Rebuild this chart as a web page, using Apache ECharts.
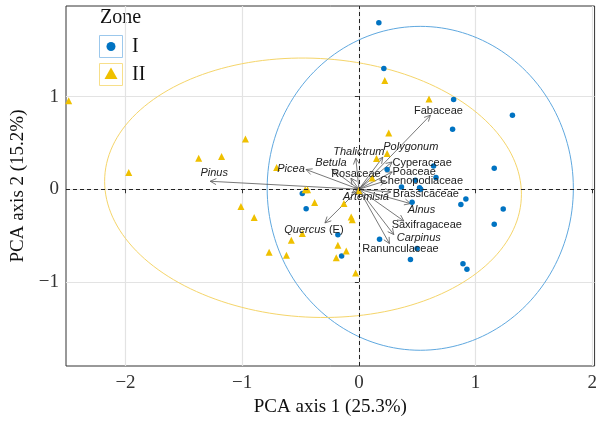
<!DOCTYPE html>
<html><head><meta charset="utf-8">
<script src="https://cdn.jsdelivr.net/npm/echarts@6/dist/echarts.min.js"></script>
<style>html,body{margin:0;padding:0;background:#fff}#c{width:600px;height:422px}</style>
</head><body><div id="c"></div>
<script>
// ---------- data ----------
const zoneNames = ['I', 'II'];
const zoneI = [
  [0.171, 1.80], [0.214, 1.305], [0.812, 0.970], [1.316, 0.80], [0.803, 0.649],
  [1.160, 0.227], [0.640, 0.252], [0.661, 0.126], [0.484, 0.097], [0.365, 0.025],
  [0.52, 0.015], [0.53, 0.0], [0.917, -0.105], [0.874, -0.166], [1.237, -0.213],
  [0.456, -0.14], [1.160, -0.378], [0.499, -0.641], [0.442, -0.760], [0.892, -0.804],
  [0.926, -0.865], [0.242, 0.213], [-0.485, -0.046], [-0.452, -0.21], [-0.18, -0.492],
  [-0.148, -0.722], [0.177, -0.541]
];
const zoneII = [
  [-2.487, 0.955], [-0.972, 0.544], [-1.373, 0.335], [-1.177, 0.353], [-1.972, 0.18],
  [-0.705, 0.235], [-0.46, -0.005], [-0.44, -0.005], [-1.011, -0.187], [-0.897, -0.306],
  [-0.379, -0.143], [-0.128, -0.155], [-0.066, -0.30], [-0.057, -0.33], [-0.485, -0.479],
  [-0.579, -0.551], [-0.18, -0.605], [-0.108, -0.667], [-0.769, -0.680], [-0.621, -0.714],
  [-0.194, -0.739], [-0.028, -0.905], [0.0, -0.015], [0.114, 0.122], [0.151, 0.332],
  [0.242, 0.386], [0.256, 0.609], [0.222, 1.175], [0.601, 0.976]
];
// confidence ellipses: centre x, centre y, axis-1 vector (x,y), axis-2 vector (x,y)
const ellipseI  = [0.526, 0.01, 1.312, 0.0, 0.0, 1.75];
const ellipseII = [-0.393, 0.016, 1.786, -0.07, 0.0, 1.40];
// variable loadings (arrows)
const varNames = ['Pinus','Picea','Betula','Rosaceae','Thalictrum','Polygonum','Cyperaceae','Poaceae',
  'Chenopodiaceae','Brassicaceae','Alnus','Saxifragaceae','Carpinus','Ranunculaceae','Quercus (E)','Artemisia','Fabaceae'];
const varX = [-1.274, -0.453, -0.231, -0.068, -0.026, 0.205, 0.285, 0.285, 0.228, 0.274, 0.442, 0.385, 0.299, 0.262, -0.291, -0.06, 0.613];
const varY = [0.086, 0.213, 0.216, 0.119, 0.335, 0.346, 0.295, 0.187, 0.09, -0.03, -0.155, -0.343, -0.49, -0.587, -0.364, -0.04, 0.80];
const xTicks = [-2, -1, 0, 1, 2];
const yTicks = [-1, 0, 1];
const xTitle = 'PCA axis 1 (25.3%)';
const yTitle = 'PCA axis 2 (15.2%)';
const legendTitle = 'Zone';

// ---------- styling ----------
const italicNames = ['Pinus','Picea','Betula','Thalictrum','Polygonum','Alnus','Carpinus','Artemisia'];
const labelOffset = { // pixel offsets of label centre from arrow tip
  'Pinus':[4,-8], 'Picea':[-15,-1], 'Betula':[-1,-6], 'Rosaceae':[5,-4], 'Thalictrum':[3,-6],
  'Polygonum':[28,-10], 'Cyperaceae':[30,1], 'Poaceae':[22,0], 'Chenopodiaceae':[36,0],
  'Brassicaceae':[35,2], 'Alnus':[11,6], 'Saxifragaceae':[23,4], 'Carpinus':[25,3],
  'Ranunculaceae':[11,5], 'Quercus (E)':[-11,7], 'Artemisia':[14,4], 'Fabaceae':[8,-4]
};
const BLUE = '#0073C2', YEL = '#EFC000';
const SERIF = '"Liberation Serif", "Times New Roman", serif';
const SANS = '"Liberation Sans", Arial, sans-serif';
const fmt = v => (v < 0 ? '\u2212' + Math.abs(v) : String(v));

const chart = echarts.init(document.getElementById('c'), null, {renderer: 'canvas'});

function ellipseRender(params, api) {
  const e = params.dataIndex === 0 ? ellipseI : ellipseII;
  const pts = [];
  for (let k = 0; k <= 180; k++) {
    const t = k / 180 * Math.PI * 2;
    pts.push(api.coord([e[0] + e[2] * Math.cos(t) + e[4] * Math.sin(t),
                        e[1] + e[3] * Math.cos(t) + e[5] * Math.sin(t)]));
  }
  return {type: 'polyline', shape: {points: pts},
    style: {stroke: params.dataIndex === 0 ? '#5fa8df' : '#f5d56a', lineWidth: 1, fill: null}};
}

function arrowRender(params, api) {
  const o = api.coord([0, 0]);
  const p = api.coord([api.value(0), api.value(1)]);
  const dx = p[0] - o[0], dy = p[1] - o[1];
  const len = Math.hypot(dx, dy) || 1;
  const ux = dx / len, uy = dy / len;
  const ah = 6, aw = 3;
  const a1 = [p[0] - ux * ah - uy * aw, p[1] - uy * ah + ux * aw];
  const a2 = [p[0] - ux * ah + uy * aw, p[1] - uy * ah - ux * aw];
  return {type: 'group', children: [
    {type: 'line', shape: {x1: o[0], y1: o[1], x2: p[0], y2: p[1]}, style: {stroke: '#555', lineWidth: 0.8}},
    {type: 'polyline', shape: {points: [a1, p, a2]}, style: {stroke: '#555', lineWidth: 0.8, fill: null}}
  ]};
}

function labelRender(params, api) {
  const p = api.coord([api.value(0), api.value(1)]);
  const name = varNames[params.dataIndex];
  const off = labelOffset[name] || [0, 0];
  let text = name, rich;
  if (name === 'Quercus (E)') { text = '{i|Quercus} (E)'; rich = {i: {fontStyle: 'italic', font: 'italic 11px ' + SANS, fill: '#222'}}; }
  return {type: 'text', x: p[0] + off[0], y: p[1] + off[1],
    style: {text: text, rich: rich, fill: '#222', align: 'center', verticalAlign: 'middle',
      font: (italicNames.includes(name) ? 'italic ' : '') + '11px ' + SANS}};
}

const option = {
  animation: false,
  backgroundColor: '#fff',
  grid: {left: 66, right: 4, top: 6, bottom: 56, show: true, borderColor: '#333', borderWidth: 1, backgroundColor: '#fff'},
  xAxis: {type: 'value', min: -2.51, max: 2.02, splitNumber: 9,
    name: xTitle, nameLocation: 'middle', nameGap: 32,
    nameTextStyle: {fontFamily: SERIF, fontSize: 19, color: '#111'},
    axisLine: {show: false},
    axisTick: {show: true, customValues: xTicks, length: 4, lineStyle: {color: '#333'}},
    axisLabel: {customValues: xTicks, formatter: fmt, fontFamily: SERIF, fontSize: 19, color: '#333', margin: 8},
    splitLine: {show: true, lineStyle: {color: '#e3e3e3', width: 1.2}}},
  yAxis: {type: 'value', min: -1.91, max: 1.98, splitNumber: 8,
    name: yTitle, nameLocation: 'middle', nameGap: 26, nameRotate: 90,
    nameTextStyle: {fontFamily: SERIF, fontSize: 19, color: '#111'},
    axisLine: {show: false},
    axisTick: {show: true, customValues: yTicks, length: 4, lineStyle: {color: '#333'}},
    axisLabel: {customValues: yTicks, formatter: fmt, fontFamily: SERIF, fontSize: 19, color: '#333', margin: 7},
    splitLine: {show: true, lineStyle: {color: '#e3e3e3', width: 1.2}}},
  series: [
    {type: 'custom', name: 'ellipses', renderItem: ellipseRender, data: [[ellipseI[0], ellipseI[1]], [ellipseII[0], ellipseII[1]]], z: 2, silent: true, clip: true},
    {type: 'custom', name: 'arrows', renderItem: arrowRender, data: varX.map((x, i) => [x, varY[i]]), z: 3, silent: true},
    {type: 'scatter', name: zoneNames[0], data: zoneI, symbol: 'circle', symbolSize: 5.5,
      itemStyle: {color: BLUE, opacity: 1}, z: 4, clip: true,
      markLine: {silent: true, symbol: 'none', label: {show: false},
        lineStyle: {color: '#222', type: [4, 3], width: 1}, data: [{xAxis: 0}, {yAxis: 0}]}},
    {type: 'scatter', name: zoneNames[1], data: zoneII, symbol: 'triangle', symbolSize: 7,
      itemStyle: {color: YEL, opacity: 1}, z: 4, clip: true},
    {type: 'custom', name: 'labels', renderItem: labelRender, data: varX.map((x, i) => [x, varY[i]]), z: 5, silent: true}
  ],
  graphic: [
    {type: 'text', left: 100, top: 8, style: {text: legendTitle, font: '20px ' + SERIF, fill: '#111'}},
    {type: 'rect', shape: {x: 99.5, y: 35.5, width: 23, height: 22}, style: {stroke: '#9cc8ec', fill: '#fff', lineWidth: 1}},
    {type: 'circle', shape: {cx: 111, cy: 46.5, r: 4.5}, style: {fill: BLUE}},
    {type: 'text', x: 132, y: 47, style: {text: zoneNames[0], font: '20px ' + SERIF, fill: '#111', verticalAlign: 'middle'}},
    {type: 'rect', shape: {x: 99.5, y: 63.5, width: 23, height: 22}, style: {stroke: '#f7df8a', fill: '#fff', lineWidth: 1}},
    {type: 'polygon', shape: {points: [[111, 67.5], [117.5, 79], [104.5, 79]]}, style: {fill: YEL}},
    {type: 'text', x: 132, y: 74.5, style: {text: zoneNames[1], font: '20px ' + SERIF, fill: '#111', verticalAlign: 'middle'}}
  ]
};
chart.setOption(option);
</script></body></html>
